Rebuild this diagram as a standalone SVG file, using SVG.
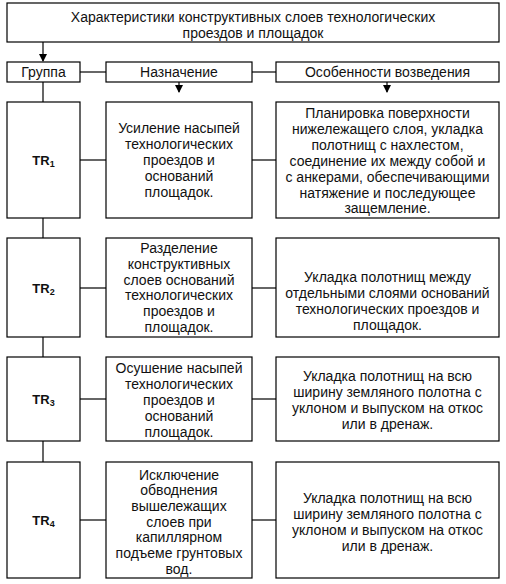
<svg xmlns="http://www.w3.org/2000/svg" width="506" height="584" viewBox="0 0 506 584">
<style>
.b{fill:#fff;stroke:#000;stroke-width:1.2}
.t{font-family:"Liberation Sans",Arial,sans-serif;font-size:14px;fill:#111;text-anchor:middle}
.tr{font-family:"Liberation Sans",Arial,sans-serif;font-size:13px;font-weight:bold;fill:#111;text-anchor:middle}
.c{stroke:#000;stroke-width:1.2;fill:none}
</style>
<defs>
<marker id="ar" markerWidth="8" markerHeight="8" refX="7" refY="4" orient="auto" markerUnits="userSpaceOnUse">
<path d="M0,0 L8,4 L0,8 Z" fill="#000"/>
</marker>
</defs>
<rect width="506" height="584" fill="#fff"/>
<g id="connectors">
<line class="c" x1="43" y1="42" x2="43" y2="61" marker-end="url(#ar)"/>
<line class="c" x1="43" y1="82" x2="43" y2="462"/>
<line class="c" x1="80" y1="72" x2="106" y2="72"/>
<line class="c" x1="252" y1="72" x2="276" y2="72"/>
<line class="c" x1="179" y1="82" x2="179" y2="92" marker-end="url(#ar)"/>
<line class="c" x1="387" y1="82" x2="387" y2="92" marker-end="url(#ar)"/>
<line class="c" x1="80" y1="160" x2="106" y2="160"/>
<line class="c" x1="252" y1="160" x2="276" y2="160"/>
<line class="c" x1="80" y1="288" x2="106" y2="288"/>
<line class="c" x1="252" y1="288" x2="276" y2="288"/>
<line class="c" x1="80" y1="399" x2="106" y2="399"/>
<line class="c" x1="252" y1="399" x2="276" y2="399"/>
<line class="c" x1="80" y1="520" x2="106" y2="520"/>
<line class="c" x1="252" y1="520" x2="276" y2="520"/>
</g>
<g id="title">
<rect class="b" x="7" y="3" width="492" height="39"/>
<text class="t" x="253" y="22">Характеристики конструктивных слоев технологических</text>
<text class="t" x="253" y="37.5">проездов и площадок</text>
</g>
<g id="h-group">
<rect class="b" x="7" y="62" width="73" height="20"/>
<text class="t" x="43.5" y="77">Группа</text>
</g>
<g id="h-purpose">
<rect class="b" x="106" y="62" width="146" height="20"/>
<text class="t" x="179" y="77">Назначение</text>
</g>
<g id="h-features">
<rect class="b" x="276" y="62" width="223" height="20"/>
<text class="t" x="387.5" y="77">Особенности возведения</text>
</g>
<g id="tr1">
<rect class="b" x="7" y="102" width="73" height="116"/>
<text class="tr" x="43.5" y="164.5">TR<tspan font-size="9" dy="2">1</tspan></text>
</g>
<g id="p1">
<rect class="b" x="106" y="102" width="146" height="116"/>
<text class="t" y="133"><tspan x="179">Усиление насыпей</tspan><tspan x="179" dy="16">технологических</tspan><tspan x="179" dy="16">проездов  и</tspan><tspan x="179" dy="16">оснований</tspan><tspan x="179" dy="16">площадок.</tspan></text>
</g>
<g id="f1">
<rect class="b" x="276" y="102" width="223" height="116"/>
<text class="t" y="118"><tspan x="387.5">Планировка поверхности</tspan><tspan x="387.5" dy="15.9">нижележащего слоя, укладка</tspan><tspan x="387.5" dy="15.9">полотнищ с нахлестом,</tspan><tspan x="387.5" dy="15.9">соединение их между собой и</tspan><tspan x="387.5" dy="15.9">с анкерами, обеспечивающими</tspan><tspan x="387.5" dy="15.9">натяжение и последующее</tspan><tspan x="387.5" dy="15.9">защемление.</tspan></text>
</g>
<g id="tr2">
<rect class="b" x="7" y="238" width="73" height="99"/>
<text class="tr" x="43.5" y="292.5">TR<tspan font-size="9" dy="2">2</tspan></text>
</g>
<g id="p2">
<rect class="b" x="106" y="238" width="146" height="99"/>
<text class="t" y="253"><tspan x="179">Разделение</tspan><tspan x="179" dy="15.8">конструктивных</tspan><tspan x="179" dy="15.8">слоев оснований</tspan><tspan x="179" dy="15.8">технологических</tspan><tspan x="179" dy="15.8">проездов и</tspan><tspan x="179" dy="15.8">площадок.</tspan></text>
</g>
<g id="f2">
<rect class="b" x="276" y="238" width="223" height="99"/>
<text class="t" y="281.5"><tspan x="387.5">Укладка полотнищ между</tspan><tspan x="387.5" dy="16">отдельными слоями оснований</tspan><tspan x="387.5" dy="16">технологических проездов и</tspan><tspan x="387.5" dy="16">площадок.</tspan></text>
</g>
<g id="tr3">
<rect class="b" x="7" y="357" width="73" height="84"/>
<text class="tr" x="43.5" y="403.5">TR<tspan font-size="9" dy="2">3</tspan></text>
</g>
<g id="p3">
<rect class="b" x="106" y="357" width="146" height="84"/>
<text class="t" y="373"><tspan x="179">Осушение насыпей</tspan><tspan x="179" dy="16">технологических</tspan><tspan x="179" dy="16">проездов и</tspan><tspan x="179" dy="16">оснований</tspan><tspan x="179" dy="16">площадок.</tspan></text>
</g>
<g id="f3">
<rect class="b" x="276" y="357" width="223" height="84"/>
<text class="t" y="381"><tspan x="387.5">Укладка полотнищ на всю</tspan><tspan x="387.5" dy="16">ширину земляного полотна с</tspan><tspan x="387.5" dy="16">уклоном и выпуском на откос</tspan><tspan x="387.5" dy="16">или в дренаж.</tspan></text>
</g>
<g id="tr4">
<rect class="b" x="7" y="462" width="73" height="116"/>
<text class="tr" x="43.5" y="524.5">TR<tspan font-size="9" dy="2">4</tspan></text>
</g>
<g id="p4">
<rect class="b" x="106" y="462" width="146" height="116"/>
<text class="t" y="479.5"><tspan x="179">Исключение</tspan><tspan x="179" dy="15.7">обводнения</tspan><tspan x="179" dy="15.7">вышележащих</tspan><tspan x="179" dy="15.7">слоев при</tspan><tspan x="179" dy="15.7">капиллярном</tspan><tspan x="179" dy="15.7">подъеме грунтовых</tspan><tspan x="179" dy="15.7">вод.</tspan></text>
</g>
<g id="f4">
<rect class="b" x="276" y="462" width="223" height="116"/>
<text class="t" y="503"><tspan x="387.5">Укладка полотнищ на всю</tspan><tspan x="387.5" dy="16">ширину земляного полотна с</tspan><tspan x="387.5" dy="16">уклоном и выпуском на откос</tspan><tspan x="387.5" dy="16">или в дренаж.</tspan></text>
</g>
</svg>
